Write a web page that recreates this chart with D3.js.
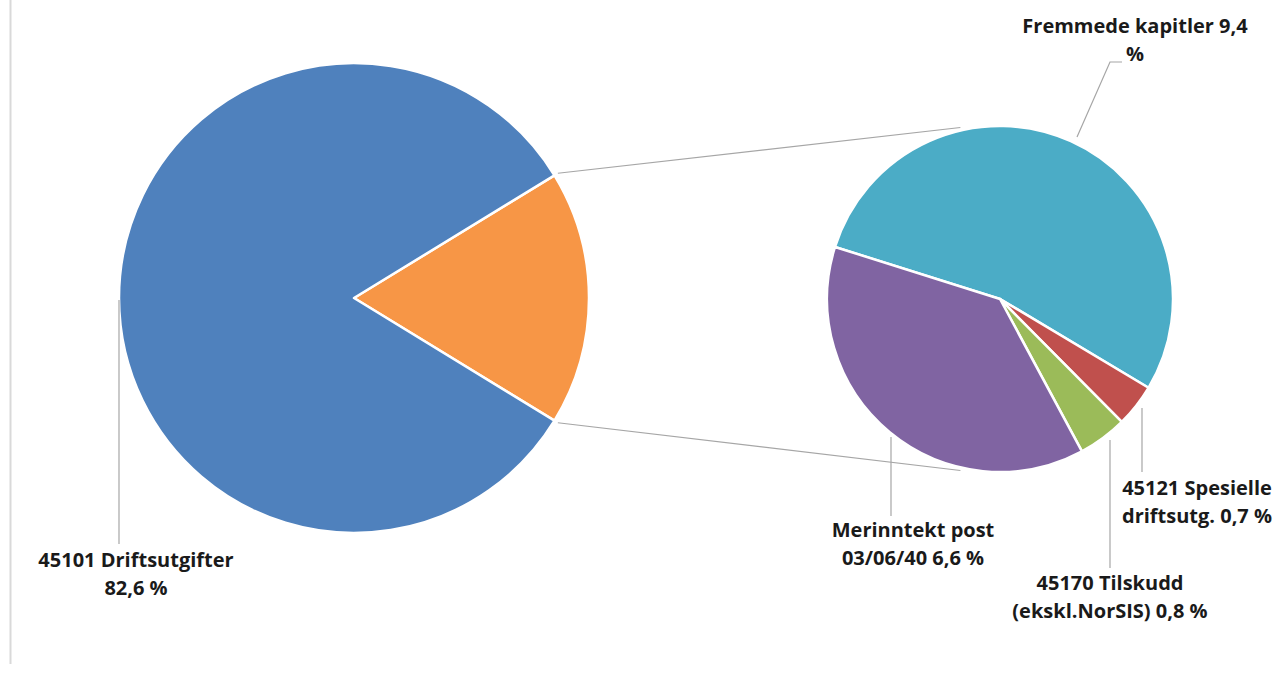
<!DOCTYPE html>
<html>
<head>
<meta charset="utf-8">
<script src="https://cdn.jsdelivr.net/npm/d3@7"></script>
<style>
  html, body { margin: 0; padding: 0; background: #fff; }
  svg { display: block; }
  text { font-family: "Open Sans", Lato, sans-serif; font-weight: bold; fill: #1a1a1a; }
</style>
</head>
<body>
<svg id="chart" width="1277" height="679"></svg>
<script>
// ---- data ----
const mainCategories = ["45101 Driftsutgifter", "Andre"];
const mainValues = [82.6, 17.5];
const mainColors = ["#4F81BD", "#F79646"];

const subCategories = ["Fremmede kapitler", "45121 Spesielle driftsutg.", "45170 Tilskudd (ekskl.NorSIS)", "Merinntekt post 03/06/40"];
const subValues = [9.4, 0.7, 0.8, 6.6];
const subColors = ["#4BACC6", "#C0504D", "#9BBB59", "#8064A2"];

const labelLines = [
  ["45101 Driftsutgifter", "82,6 %"],
  ["Fremmede kapitler 9,4", "%"],
  ["45121 Spesielle", "driftsutg. 0,7 %"],
  ["45170 Tilskudd", "(ekskl.NorSIS) 0,8 %"],
  ["Merinntekt post", "03/06/40 6,6 %"]
];

// ---- layout ----
const W = 1277, H = 679;
const svg = d3.select("#chart");
const deg = Math.PI / 180;

// frame line on left
svg.append("line").attr("x1", 10.5).attr("x2", 10.5).attr("y1", 0).attr("y2", 664)
  .attr("stroke", "#d9d9d9").attr("stroke-width", 2);

const main = { cx: 354, cy: 298, r: 235 };
const sub = { cx: 1000, cy: 299, r: 173 };

// main pie: orange slice centered at 3 o'clock
const mainTotal = d3.sum(mainValues);
const orangeSpan = mainValues[1] / mainTotal * 2 * Math.PI;
const mainOrder = [1, 0];
const mainPie = d3.pie().sort(null).value(i => mainValues[i])
  .startAngle(Math.PI / 2 - orangeSpan / 2).endAngle(Math.PI / 2 - orangeSpan / 2 + 2 * Math.PI);
const mainArcs = mainPie(mainOrder);
const mainArc = d3.arc().innerRadius(0).outerRadius(main.r);

const subStart = -72.5 * deg;
const subPie = d3.pie().sort(null).value(d => d)
  .startAngle(subStart).endAngle(subStart + 2 * Math.PI);
const subArcs = subPie(subValues);
const subArc = d3.arc().innerRadius(0).outerRadius(sub.r);

// connector lines
const orangeArc = mainArcs.find(a => a.data === 1);
function pt(c, r, a) { return [c.cx + r * Math.sin(a), c.cy - r * Math.cos(a)]; }
const conn = [
  [pt(main, main.r + 4, orangeArc.startAngle), pt(sub, sub.r + 3, -13 * deg)],
  [pt(main, main.r + 4, orangeArc.endAngle), pt(sub, sub.r + 3, 193 * deg)]
];
svg.selectAll("line.conn").data(conn).join("line").attr("class", "conn")
  .attr("x1", d => d[0][0]).attr("y1", d => d[0][1])
  .attr("x2", d => d[1][0]).attr("y2", d => d[1][1])
  .attr("stroke", "#a6a6a6").attr("stroke-width", 1.2);

svg.append("g").attr("transform", `translate(${main.cx},${main.cy})`)
  .selectAll("path").data(mainArcs).join("path")
  .attr("d", mainArc).attr("fill", d => mainColors[d.data])
  .attr("stroke", "#fff").attr("stroke-width", 2.5).attr("stroke-linejoin", "round");

svg.append("g").attr("transform", `translate(${sub.cx},${sub.cy})`)
  .selectAll("path").data(subArcs).join("path")
  .attr("d", subArc).attr("fill", (d, i) => subColors[i])
  .attr("stroke", "#fff").attr("stroke-width", 2.5).attr("stroke-linejoin", "round");

// leader lines
const leaders = [
  [[119, 300], [119, 544]],
  [[1077, 137], [1110, 62], [1122, 62]],
  [[1142, 408], [1142, 472]],
  [[1110, 440], [1110, 568]],
  [[891, 437], [891, 516]]
];
svg.selectAll("path.leader").data(leaders).join("path").attr("class", "leader")
  .attr("d", d => d3.line()(d)).attr("fill", "none")
  .attr("stroke", "#a6a6a6").attr("stroke-width", 1.2);

// labels
const labelPos = [
  { x: 136, y: 567 },
  { x: 1135, y: 33 },
  { x: 1197, y: 495 },
  { x: 1110, y: 590 },
  { x: 913, y: 537 }
];
const lineH = 28;
labelLines.forEach((lines, i) => {
  const t = svg.append("text").attr("text-anchor", "middle").attr("font-size", 20)
    .attr("x", labelPos[i].x).attr("y", labelPos[i].y);
  lines.forEach((s, j) => t.append("tspan").attr("x", labelPos[i].x).attr("dy", j ? lineH : 0).text(s));
});
</script>
</body>
</html>
